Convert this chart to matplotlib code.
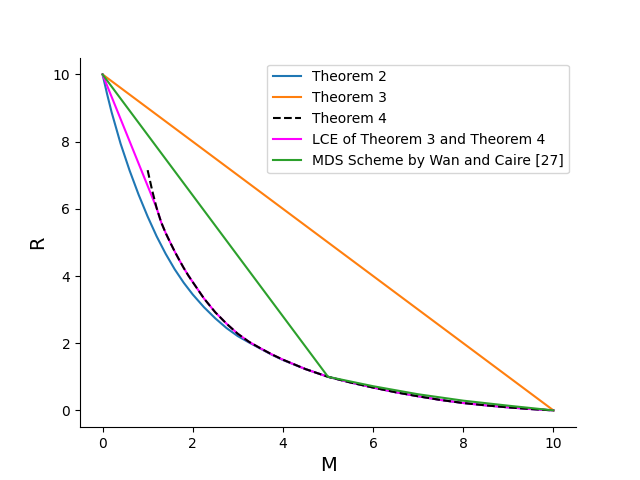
import matplotlib
matplotlib.use("Agg")
import matplotlib.pyplot as plt

# Theorem 2 (lower bound)
thm2_M = [0, 0.1, 0.2, 0.4, 0.6, 0.8, 1.0, 1.2, 1.4, 1.6, 1.8, 2.0, 2.25, 2.5, 2.75,
          3.0, 3.25, 3.5, 3.75, 4, 4.5, 5, 5.5, 6, 6.5, 7, 7.5, 8, 8.5, 9, 9.5, 10]
thm2_R = [10, 9.42, 8.88, 7.94, 7.14, 6.42, 5.77, 5.18, 4.66, 4.20, 3.80, 3.45, 3.07, 2.74, 2.45,
          2.21, 2.02, 1.84, 1.66, 1.50, 1.23, 1.0, 0.83, 0.68, 0.54, 0.42, 0.31, 0.22, 0.15, 0.09, 0.04, 0]

# Theorem 3
thm3_M = [0, 10]
thm3_R = [10, 0]

# Theorem 4
thm4_M = [1.0, 1.1, 1.2, 1.3, 1.4, 1.5, 1.6, 1.7, 1.8, 1.9, 2.0, 2.25, 2.5, 2.75, 3.0, 3.25, 3.5, 3.75,
          4, 4.5, 5, 5.5, 6, 6.5, 7, 7.5, 8, 8.5, 9, 9.5, 10]
thm4_R = [7.15, 6.55, 6.02, 5.6, 5.28, 5.0, 4.73, 4.48, 4.24, 4.02, 3.82, 3.33, 2.92, 2.58, 2.28, 2.04, 1.85, 1.67,
          1.51, 1.23, 1.0, 0.83, 0.68, 0.54, 0.42, 0.31, 0.22, 0.15, 0.09, 0.04, 0]

# lower convex envelope of Theorem 3 and Theorem 4
lce_M = [0, 1.2, 1.3, 1.4, 1.5, 1.6, 1.7, 1.8, 1.9, 2.0, 2.25, 2.5, 2.75, 3.0, 3.25, 3.5, 3.75,
         4, 4.5, 5, 5.5, 6, 6.5, 7, 7.5, 8, 8.5, 9, 9.5, 10]
lce_R = [10, 6.02, 5.6, 5.28, 5.0, 4.73, 4.48, 4.24, 4.02, 3.82, 3.33, 2.92, 2.58, 2.28, 2.04, 1.85, 1.67,
         1.51, 1.23, 1.0, 0.83, 0.68, 0.54, 0.42, 0.31, 0.22, 0.15, 0.09, 0.04, 0]

# MDS scheme by Wan and Caire
mds_M = [0, 5, 6, 7, 8, 9, 10]
mds_R = [10, 1.0, 0.72, 0.48, 0.29, 0.14, 0]

fig, ax = plt.subplots(figsize=(6.4, 4.8), dpi=100)

ax.plot(thm2_M, thm2_R, color='#1f77b4', label='Theorem 2', zorder=2)
ax.plot(thm3_M, thm3_R, color='#ff7f0e', label='Theorem 3', zorder=2)
ax.plot(thm4_M, thm4_R, color='black', linestyle='--', label='Theorem 4', zorder=3)
ax.plot(lce_M, lce_R, color='magenta', label='LCE of Theorem 3 and Theorem 4', zorder=2.5)
ax.plot(mds_M, mds_R, color='#2ca02c', label='MDS Scheme by Wan and Caire [27]', zorder=3.5)

ax.set_xlabel('M', fontsize=14)
ax.set_ylabel('R', fontsize=14)
ax.spines['top'].set_visible(False)
ax.spines['right'].set_visible(False)
ax.legend(loc='upper right')

plt.savefig('out.png', dpi=100)
